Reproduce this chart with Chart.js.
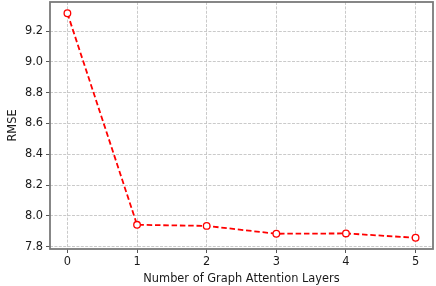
<!DOCTYPE html>
<html>
<head>
<meta charset="utf-8">
<script src="https://cdn.jsdelivr.net/npm/chart.js@4.4.0/dist/chart.umd.min.js"></script>
<style>
  html, body { margin: 0; padding: 0; background: #fff; }
  #wrap { width: 436px; height: 286px; }
</style>
</head>
<body>
<div id="wrap"><canvas id="rmse-chart" width="436" height="286"></canvas></div>
<script>
/* global Chart */
var layers = [0, 1, 2, 3, 4, 5];
var rmse = [9.316, 7.942, 7.935, 7.884, 7.886, 7.858];
var xTicks = [0, 1, 2, 3, 4, 5];
var yTicks = [7.8, 8.0, 8.2, 8.4, 8.6, 8.8, 9.0, 9.2];

(function () {
    'use strict';
    var font = { family: 'DejaVu Sans', size: 11.4 };
    var gridGray = '#c4c4c4';
    var spineGray = '#7a7a7a';

    var framePlugin = {
        id: 'frame',
        afterDraw: function (chart) {
            var a = chart.chartArea, c = chart.ctx;
            c.save();
            c.strokeStyle = spineGray;
            c.lineWidth = 1.8;
            c.strokeRect(a.left, a.top, a.right - a.left, a.bottom - a.top);
            c.restore();
        }
    };

    function keep(list) {
        return function (scale) {
            scale.ticks = list.map(function (v) { return { value: v }; });
        };
    }

    function gridOpts() {
        return {
            color: gridGray,
            tickColor: '#444',
            tickLength: 4,
            tickBorderDash: [],
            lineWidth: 0.9,
            tickWidth: 0.9
        };
    }

    new Chart(document.getElementById('rmse-chart'), {
        type: 'line',
        data: {
            datasets: [{
                data: layers.map(function (x, i) { return { x: x, y: rmse[i] }; }),
                borderColor: '#ff0000',
                borderWidth: 1.8,
                borderDash: [5.5, 2.8],
                pointRadius: 3.3,
                pointBorderWidth: 1.3,
                pointBackgroundColor: '#ffffff',
                pointBorderColor: '#ff0000',
                tension: 0
            }]
        },
        options: {
            responsive: false,
            animation: false,
            layout: { autoPadding: false, padding: { left: 0, top: 2, right: 3, bottom: 0 } },
            plugins: { legend: { display: false }, tooltip: { enabled: false } },
            scales: {
                x: {
                    type: 'linear',
                    min: -0.25,
                    max: 5.25,
                    afterBuildTicks: keep(xTicks),
                    afterFit: function (s) { s.height = 37; s.paddingLeft = 0; s.paddingRight = 0; },
                    border: { display: false, dash: [3, 1.4] },
                    grid: gridOpts(),
                    ticks: { color: '#1a1a1a', font: font, padding: 2, maxRotation: 0 },
                    title: { display: true, text: 'Number of Graph Attention Layers', color: '#1a1a1a', font: font, padding: { top: 0, bottom: 0 } }
                },
                y: {
                    min: 7.785,
                    max: 9.389,
                    afterBuildTicks: keep(yTicks),
                    afterFit: function (s) { s.width = 50; s.paddingTop = 0; s.paddingBottom = 0; },
                    border: { display: false, dash: [3, 1.4] },
                    grid: gridOpts(),
                    ticks: {
                        color: '#1a1a1a', font: font, padding: 3,
                        callback: function (v) { return v.toFixed(1); }
                    },
                    title: { display: true, text: 'RMSE', color: '#1a1a1a', font: font, padding: { top: 6, bottom: 0 } }
                }
            }
        },
        plugins: [framePlugin]
    });
})();
</script>
</body>
</html>
